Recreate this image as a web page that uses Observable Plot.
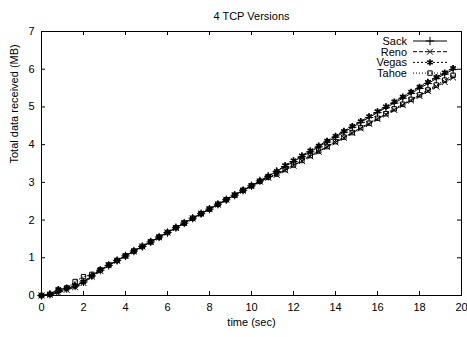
<!DOCTYPE html>
<html><head><meta charset="utf-8">
<script src="https://cdn.jsdelivr.net/npm/d3@7"></script>
<script src="https://cdn.jsdelivr.net/npm/@observablehq/plot@0.6"></script>
<style>
body{margin:0;background:#fff}
svg{font-family:"Liberation Sans",Arial,sans-serif}
</style>
</head><body><div id="chart"></div>
<script>
const times = [0,0.4,0.8,1.2,1.6,2.0,2.4,2.8,3.2,3.6,4.0,4.4,4.8,5.2,5.6,6.0,6.4,6.8,7.2,7.6,8.0,8.4,8.8,9.2,9.6,10.0,10.4,10.8,11.2,11.6,12.0,12.4,12.8,13.2,13.6,14.0,14.4,14.8,15.2,15.6,16.0,16.4,16.8,17.2,17.6,18.0,18.4,18.8,19.2,19.6];
const sack  = [0,0.03,0.10,0.18,0.25,0.36,0.52,0.67,0.80,0.93,1.05,1.18,1.30,1.42,1.55,1.67,1.80,1.92,2.05,2.17,2.29,2.42,2.54,2.66,2.79,2.91,3.04,3.16,3.29,3.42,3.55,3.68,3.81,3.94,4.07,4.20,4.33,4.46,4.59,4.72,4.85,4.98,5.10,5.23,5.36,5.49,5.62,5.75,5.87,5.99];
const reno  = [0,0.02,0.07,0.15,0.22,0.33,0.50,0.65,0.80,0.92,1.05,1.17,1.30,1.42,1.54,1.67,1.79,1.92,2.04,2.17,2.29,2.41,2.54,2.66,2.78,2.90,3.02,3.12,3.20,3.32,3.44,3.57,3.69,3.81,3.94,4.06,4.18,4.31,4.43,4.55,4.68,4.80,4.92,5.05,5.17,5.29,5.42,5.54,5.66,5.78];
const vegas = [0,0.04,0.17,0.20,0.26,0.37,0.52,0.68,0.81,0.93,1.05,1.18,1.30,1.43,1.55,1.68,1.80,1.93,2.05,2.17,2.30,2.42,2.54,2.67,2.79,2.91,3.04,3.17,3.30,3.45,3.58,3.71,3.84,3.97,4.10,4.23,4.36,4.49,4.62,4.75,4.88,5.01,5.14,5.27,5.40,5.53,5.66,5.79,5.91,6.03];
const tahoe = [0,0.03,0.13,0.20,0.37,0.50,0.56,0.68,0.81,0.93,1.05,1.18,1.30,1.42,1.55,1.67,1.80,1.92,2.05,2.17,2.29,2.42,2.54,2.66,2.79,2.91,3.03,3.14,3.22,3.34,3.46,3.58,3.71,3.83,3.95,4.08,4.20,4.32,4.45,4.57,4.70,4.82,4.95,5.07,5.20,5.32,5.45,5.58,5.71,5.84];
const seriesNames = ["Sack","Reno","Vegas","Tahoe"];
const xTicks = [0,2,4,6,8,10,12,14,16,18,20];
const yTicks = [0,1,2,3,4,5,6,7];
const title = "4 TCP Versions";
const xLabel = "time (sec)";
const yLabel = "Total data received (MB)";

const valuesByName = {Sack: sack, Reno: reno, Vegas: vegas, Tahoe: tahoe};
const styles = {
  Sack:  {dash: null,  symbol: "plus",     fill: "none",  stroke: "black", r: 2.8},
  Reno:  {dash: "4,2", symbol: "times",    fill: "none",  stroke: "black", r: 2.8},
  Vegas: {dash: "2,2", symbol: "asterisk", fill: "none",  stroke: "black", r: 3.0, sw: 1.7},
  Tahoe: {dash: "1,2", symbol: "square",   fill: "none",  stroke: "black", r: 2.5}
};
const W = 467, H = 337, mt = 31, mb = 42, ml = 41, mr = 6;
const fw = W - ml - mr, fh = H - mt - mb;

const marks = [
  Plot.frame({stroke: "black", strokeWidth: 1}),
  Plot.ruleX(xTicks, {x: d => d, insetTop: fh - 4, stroke: "black"}),
  Plot.ruleX(xTicks, {x: d => d, insetBottom: fh - 4, stroke: "black"}),
  Plot.ruleY(yTicks, {y: d => d, insetRight: fw - 4, stroke: "black"}),
  Plot.ruleY(yTicks, {y: d => d, insetLeft: fw - 4, stroke: "black"}),
  Plot.axisX({ticks: xTicks, tickSize: 0, tickPadding: 8, tickFormat: d3.format("d"), label: null, fontSize: 11}),
  Plot.axisY({ticks: yTicks, tickSize: 0, tickPadding: 7, tickFormat: d3.format("d"), label: null, fontSize: 11}),
];
for (const name of seriesNames) {
  const s = styles[name];
  const data = times.map((t, i) => ({t, v: valuesByName[name][i]}));
  marks.push(Plot.line(data, {x: "t", y: "v", stroke: "black", strokeWidth: 1, strokeDasharray: s.dash}));
  marks.push(Plot.dot(data, {x: "t", y: "v", symbol: () => s.symbol, fill: s.fill, stroke: s.stroke, r: s.r, strokeWidth: s.sw || 1}));
}
marks.push(Plot.text([title], {frameAnchor: "top", dy: -19, fontSize: 11, fill: "black"}));
marks.push(Plot.text([xLabel], {frameAnchor: "bottom", dy: 30, fontSize: 11, fill: "black"}));
marks.push(Plot.text([yLabel], {frameAnchor: "left", dx: -27, rotate: -90, fontSize: 11, fill: "black"}));

const chart = Plot.plot({
  width: W, height: H, marginTop: mt, marginBottom: mb, marginLeft: ml, marginRight: mr,
  style: {fontFamily: "Liberation Sans, Arial, sans-serif", fontSize: "11px", color: "black", background: "white", overflow: "visible"},
  x: {domain: [0, 20]},
  y: {domain: [0, 7]},
  symbol: {type: "identity"},
  marks
});
document.getElementById("chart").appendChild(chart);

// legend (top right, gnuplot style)
const svg = d3.select(chart);
const lg = svg.append("g").attr("font-size", 11).attr("fill", "black");
const symMap = {plus: d3.symbolPlus, times: d3.symbolTimes, asterisk: d3.symbolAsterisk, square: d3.symbolSquare};
seriesNames.forEach((name, i) => {
  const s = styles[name];
  const y = 41 + i * 10.7;
  lg.append("text").attr("x", 407).attr("y", y).attr("dy", "0.35em").attr("text-anchor", "end").text(name);
  lg.append("line").attr("x1", 413).attr("x2", 447).attr("y1", y).attr("y2", y)
    .attr("stroke", "black").attr("stroke-width", 1).attr("stroke-dasharray", s.dash);
  lg.append("path").attr("transform", `translate(430,${y})`)
    .attr("d", d3.symbol(symMap[s.symbol], Math.PI * s.r * s.r)())
    .attr("fill", s.fill).attr("stroke", "black").attr("stroke-width", s.sw || 1);
});
</script>
</body></html>
